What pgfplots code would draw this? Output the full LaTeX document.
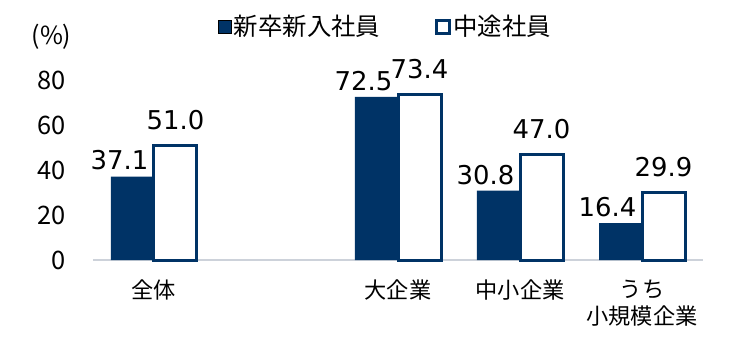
\documentclass[border=0pt]{standalone}
\usepackage{pgfplots}
\pgfplotsset{compat=1.18}
\usepackage{fontspec}
\setmainfont{Noto Sans CJK JP}
\newfontfamily\numfont{DejaVu Sans}
\definecolor{navy}{RGB}{0,51,102}
\definecolor{axgray}{RGB}{205,210,218}
\begin{document}
\begin{tikzpicture}
\useasboundingbox (-93bp,-98bp) rectangle (657bp,260bp);
\begin{axis}[
  at={(0,0)}, anchor=south west,
  scale only axis, width=610bp, height=180bp,
  xmin=-0.5, xmax=4.5, ymin=0, ymax=80,
  ybar=0pt, bar width=43bp,
  xtick={0,2,3,4},
  xticklabels={全体,大企業,中小企業,{うち\\小規模企業}},
  ytick={0,20,40,60,80},
  axis x line*=bottom, axis y line*=left,
  x axis line style={draw=axgray, line width=2bp},
  y axis line style={draw=none},
  major tick length=0pt,
  /pgf/number format/assume math mode=true,
  clip=false,
  yticklabel style={font=\fontsize{25.5}{30}\selectfont, anchor=east, inner sep=0pt, xshift=-27bp},
  xticklabel style={font=\fontsize{22.3}{27}\selectfont, anchor=north, align=center, inner sep=0pt, yshift=-20bp},
  legend style={at={(rel axis cs:0.205,1.3)}, anchor=west, draw=none, fill=none, inner sep=0pt, outer sep=0pt,
    legend columns=2, font=\fontsize{24.5}{28}\selectfont,
    /tikz/every even column/.append style={column sep=52bp}, nodes={inner sep=2.5bp}},
  legend image code/.code={\draw[#1] (0bp,-7bp) rectangle (13bp,6bp);},
]
\addplot[fill=navy, draw=none,
  nodes near coords={\numfont\pgfmathprintnumber[fixed,fixed zerofill,precision=1]{\pgfplotspointmeta}},
  nodes near coords style={font=\fontsize{26}{30}\selectfont, text=black, anchor=south, inner sep=0pt, xshift=-13bp, yshift=6bp}]
  coordinates {(0,37.1) (2,72.5) (3,30.8) (4,16.4)};
\addlegendentry{新卒新入社員}
\addplot[fill=white, draw=navy, line width=3bp,
  nodes near coords={\numfont\pgfmathprintnumber[fixed,fixed zerofill,precision=1]{\pgfplotspointmeta}},
  nodes near coords style={font=\fontsize{26}{30}\selectfont, text=black, anchor=south, inner sep=0pt, yshift=14bp}]
  coordinates {(0,51.0) (2,73.4) (3,47.0) (4,29.9)};
\addlegendentry{中途社員}
\node[font=\fontsize{25}{30}\selectfont] at (rel axis cs:-0.068,1.239) {(\%)};
\end{axis}
\end{tikzpicture}
\end{document}
